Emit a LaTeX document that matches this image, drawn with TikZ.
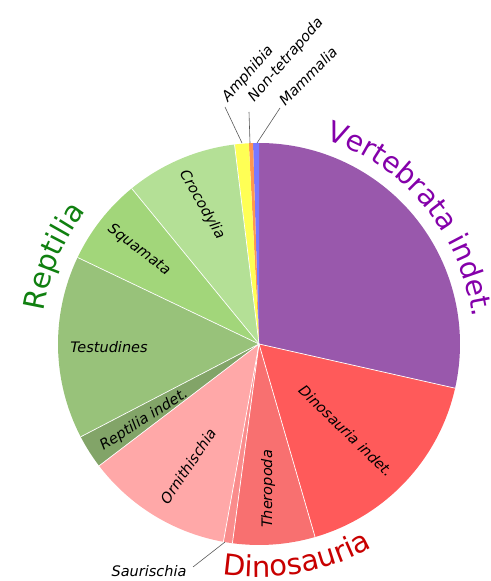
\documentclass[tikz,border=0pt]{standalone}
\usepackage{fontspec}
\setmainfont{DejaVu Sans}
\usetikzlibrary{decorations.text}
\definecolor{vert}{RGB}{153,88,172}
\definecolor{mamm}{RGB}{120,120,255}
\definecolor{nont}{RGB}{255,150,80}
\definecolor{amph}{RGB}{255,255,85}
\definecolor{croc}{RGB}{180,224,150}
\definecolor{squa}{RGB}{162,214,122}
\definecolor{test}{RGB}{152,194,122}
\definecolor{repi}{RGB}{130,164,104}
\definecolor{orni}{RGB}{255,168,168}
\definecolor{saur}{RGB}{250,140,140}
\definecolor{ther}{RGB}{248,112,112}
\definecolor{dino}{RGB}{255,90,90}
\definecolor{vertc}{RGB}{132,0,170}
\definecolor{reptc}{RGB}{16,128,16}
\definecolor{dinoc}{RGB}{200,0,0}
\begin{document}
\begin{tikzpicture}[x=1pt,y=1pt,
  lbl/.style={font=\fontsize{14.5}{14.5}\selectfont\itshape, inner sep=0pt},
  leader/.style={draw=black!65, line width=0.6pt},
  sep/.style={draw=white, line width=0.7pt}]
\useasboundingbox (0,0) rectangle (490,581);
\coordinate (C) at (259,237);
\def\R{201}
\newcommand\pieslice[3]{\fill[#3] (C) -- ([shift={(C)}]#1:\R) arc[start angle=#1, end angle=#2, radius=\R] -- cycle;}
\pieslice{-12.7}{90}{vert}
\pieslice{90}{91.7}{mamm}
\pieslice{91.7}{92.9}{nont}
\pieslice{92.9}{97}{amph}
\pieslice{97}{129.3}{croc}
\pieslice{129.3}{154.5}{squa}
\pieslice{154.5}{207.5}{test}
\pieslice{207.5}{217.3}{repi}
\pieslice{217.3}{259.8}{orni}
\pieslice{259.8}{262.4}{saur}
\pieslice{262.4}{286.2}{ther}
\pieslice{286.2}{347.3}{dino}
\foreach \a in {-12.7,97,129.3,154.5,207.5,217.3,259.8,262.4,286.2}
  \draw[sep] (C) -- ([shift={(C)}]\a:\R);
% curved group labels
\path[decorate, decoration={text along path, text align=center,
  text={|\fontsize{28.5}{28.5}\selectfont\color{vertc}|Vertebrata indet.}}]
  ([shift={(C)}]99.5:215) arc[start angle=99.5, end angle=-20.5, radius=215];
\path[decorate, decoration={text along path, text align=center,
  text={|\fontsize{29}{29}\selectfont\color{reptc}|Reptilia}}]
  ([shift={(C)}]197:218) arc[start angle=197, end angle=117, radius=218];
\path[decorate, decoration={text along path, text align=center,
  text={|\fontsize{29}{29}\selectfont\color{dinoc}|Dinosauria}}]
  ([shift={(C)}]-120:233) arc[start angle=-120, end angle=-40, radius=233];
% slice labels
\node[lbl, rotate=-60] (croclbl) at (202,376) {Crocodylia};
\node[lbl, rotate=-37] (squalbl) at (139,331) {Squamata};
\node[lbl] (testlbl) at (109,234) {Testudines};
\node[lbl, rotate=32.5] (repilbl) at (144,161) {Reptilia indet.};
\node[lbl, rotate=56] (ornilbl) at (188,115) {Ornithischia};
\node[lbl, rotate=90] (therlbl) at (268,92) {Theropoda};
\node[lbl, rotate=-44] (dinolbl) at (346,150) {Dinosauria indet.};
% outside labels with leaders
\node[lbl] (saurlbl) at (149,10) {Saurischia};
\node[lbl, rotate=48] (amphlbl) at (248,507) {Amphibia};
\node[lbl, rotate=49] (nontlbl) at (286,521) {Non-tetrapoda};
\node[lbl, rotate=45.5] (mammlbl) at (308,505) {Mammalia};
\coordinate (saurA) at (225,39);  \coordinate (saurB) at (193,14);
\coordinate (amphA) at (242,438); \coordinate (amphB) at (225,474);
\coordinate (nontA) at (250,438); \coordinate (nontB) at (249,469);
\coordinate (mammA) at (257,438); \coordinate (mammB) at (280,473);
\draw[leader] (saurA) -- (saurB);
\draw[leader] (amphA) -- (amphB);
\draw[leader] (nontA) -- (nontB);
\draw[leader] (mammA) -- (mammB);
\end{tikzpicture}
\end{document}
